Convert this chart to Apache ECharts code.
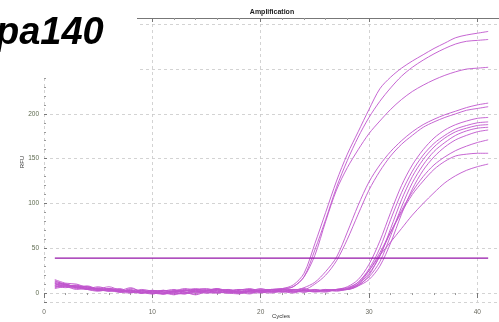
<!DOCTYPE html>
<html>
<head>
<meta charset="utf-8">
<script src="https://cdn.jsdelivr.net/npm/echarts@6/dist/echarts.min.js"></script>
<style>
html, body { margin: 0; padding: 0; background: #fff; }
#ampChart { width: 499px; height: 322px; }
</style>
</head>
<body>
<div id="ampChart"></div>
<script>
var cycles = [1,2,3,4,5,6,7,8,9,10,11,12,13,14,15,16,17,18,19,20,21,22,23,24,25,26,27,28,29,30,31,32,33,34,35,36,37,38,39,40,41];
var threshold = 39;

// RFU per well
var wellA1 = [12,9,8,5,7,4,3,6,1,-1,2,4,1,-1,3,5,2,0,3,1,4,5,9,22,55,90,125,155,180,205,228,241,251,259,266,273,279,285,288,290,292];
var wellA2 = [9,10,6,7,3,5,2,1,4,2,-1,2,5,3,0,1,4,2,1,3,2,4,7,18,48,82,118,148,174,196,214,229,242,252,260,267,273,278,281,282,283];
var wellA3 = [15,11,10,6,5,7,3,1,3,0,3,1,-1,4,5,2,0,3,5,2,4,5,7,18,42,80,115,140,160,178,192,205,216,225,232,238,243,247,250,251,252];
var wellB1 = [10,8,9,4,6,3,1,5,2,0,-1,2,4,1,2,5,0,3,4,1,2,4,3,6,12,24,40,68,98,124,143,158,170,180,188,194,199,203,207,210,212];
var wellB2 = [7,8,5,6,3,5,4,1,0,3,1,-2,2,4,3,1,3,0,2,5,2,1,4,4,10,20,36,60,88,115,136,153,166,176,185,191,196,200,204,206,208];
var wellD1 = [11,10,7,8,4,3,5,1,3,1,0,3,1,-2,2,4,3,1,-1,3,4,2,0,3,1,3,4,7,15,32,58,90,120,143,160,173,182,188,192,195,196];
var wellD2 = [6,8,7,4,2,4,1,0,3,-1,2,1,3,5,1,0,2,4,3,1,0,3,4,2,2,3,4,6,12,27,50,82,112,136,154,167,176,183,187,190,191];
var wellD3 = [14,9,8,7,4,2,3,2,0,2,-1,0,3,2,4,1,0,-1,3,4,1,2,3,5,2,4,2,5,10,22,41,72,104,130,149,163,173,180,184,187,188];
var wellD4 = [8,9,6,4,5,3,2,4,0,3,1,-1,0,3,2,4,1,0,2,3,4,1,2,1,4,2,3,4,9,18,35,64,96,123,143,158,168,176,181,184,185];
var wellD5 = [5,7,4,5,3,4,1,3,0,2,3,0,-1,2,1,3,2,4,1,0,3,4,1,3,2,1,4,4,8,15,30,56,88,116,137,152,163,171,176,180,182];
var wellE = [11,7,8,5,5,2,4,1,2,3,0,2,1,4,3,0,2,1,4,2,1,3,4,1,3,3,4,5,12,25,42,57,72,87,100,112,123,131,137,141,144];
var wellF = [8,6,7,4,3,4,2,3,0,1,3,2,0,1,3,4,1,2,0,3,4,2,1,4,2,4,3,4,10,25,45,68,90,110,125,138,147,153,155,156,156];
var wellG = [13,10,6,7,4,5,2,3,1,0,-1,2,3,1,0,3,4,1,2,1,3,4,2,3,4,2,4,4,8,20,42,68,92,113,130,143,152,159,164,168,171];

var wells = [wellA1, wellA2, wellA3, wellB1, wellB2, wellD1, wellD2, wellD3, wellD4, wellD5, wellE, wellF, wellG];

var myChart = echarts.init(document.getElementById('ampChart'));

var series = wells.map(function (w, i) {
    return {
        type: 'line',
        name: 'well' + i,
        showSymbol: false,
        smooth: 0.3,
        lineStyle: { color: '#c055cd', width: 0.9 },
        data: cycles.map(function (c, j) { return [c, w[j]]; }),
        z: 3
    };
});
series.push({
    type: 'line',
    name: 'threshold',
    showSymbol: false,
    lineStyle: { color: '#9414a8', width: 1.2 },
    data: [[cycles[0], threshold], [cycles[cycles.length - 1], threshold]],
    z: 4
});

var gridDash = { color: '#c8c8c8', width: 0.8, type: [3, 3] };

option = {
    animation: false,
    backgroundColor: '#fff',
    title: {
        text: 'Amplification',
        left: 267,
        top: 4,
        textAlign: 'center',
        textStyle: { fontSize: 7, fontWeight: 'bold', color: '#222', fontFamily: 'Liberation Sans' }
    },
    grid: { left: 44, right: 0, top: 18, bottom: 20 },
    xAxis: [
        {
            type: 'value',
            min: 0,
            max: 42,
            interval: 10,
            axisLine: { show: false },
            axisTick: { show: true, length: 5, lineStyle: { color: '#777' } },
            minorTick: { show: true, splitNumber: 5, length: 2, lineStyle: { color: '#999' } },
            axisLabel: { showMaxLabel: false, fontSize: 6.5, color: '#6a6a60', margin: 7, fontFamily: 'Liberation Sans' },
            splitLine: { show: true, lineStyle: gridDash }
        },
        {
            type: 'value',
            position: 'top',
            min: 0,
            max: 42,
            interval: 10,
            axisLine: { show: true, onZero: false, lineStyle: { color: '#777', width: 1 } },
            axisTick: { show: true, inside: true, length: 4, lineStyle: { color: '#777' } },
            minorTick: { show: true, splitNumber: 5, length: 2, lineStyle: { color: '#999' } },
            axisLabel: { show: false },
            splitLine: { show: false }
        }
    ],
    yAxis: {
        type: 'value',
        min: -10,
        max: 307,
        splitNumber: 6,
        axisLine: { show: false },
        axisTick: { show: true, inside: true, length: 3, lineStyle: { color: '#777' } },
        minorTick: { show: true, splitNumber: 5, length: 2, lineStyle: { color: '#999' } },
        axisLabel: { showMinLabel: false, showMaxLabel: false, fontSize: 6.5, color: '#5f6b50', margin: 5, fontFamily: 'Liberation Sans' },
        splitLine: { show: true, lineStyle: gridDash }
    },
    graphic: [
        {
            type: 'rect',
            left: 0,
            top: 0,
            shape: { width: 137, height: 78 },
            style: { fill: '#fff' },
            z: 100
        },
        {
            type: 'text',
            left: -4,
            top: 15,
            style: {
                text: 'pa140',
                font: 'italic bold 38px "Liberation Sans"',
                fill: '#000'
            },
            z: 101
        },
        {
            type: 'text',
            x: 22,
            y: 162,
            rotation: Math.PI / 2,
            style: {
                text: 'RFU',
                font: '6px "Liberation Sans"',
                fill: '#333',
                align: 'center',
                verticalAlign: 'middle'
            },
            z: 101
        },
        {
            type: 'text',
            left: 272,
            top: 313,
            style: {
                text: 'Cycles',
                font: '6px "Liberation Sans"',
                fill: '#333'
            },
            z: 101
        }
    ],
    series: series
};

myChart.setOption(option);
</script>
</body>
</html>
